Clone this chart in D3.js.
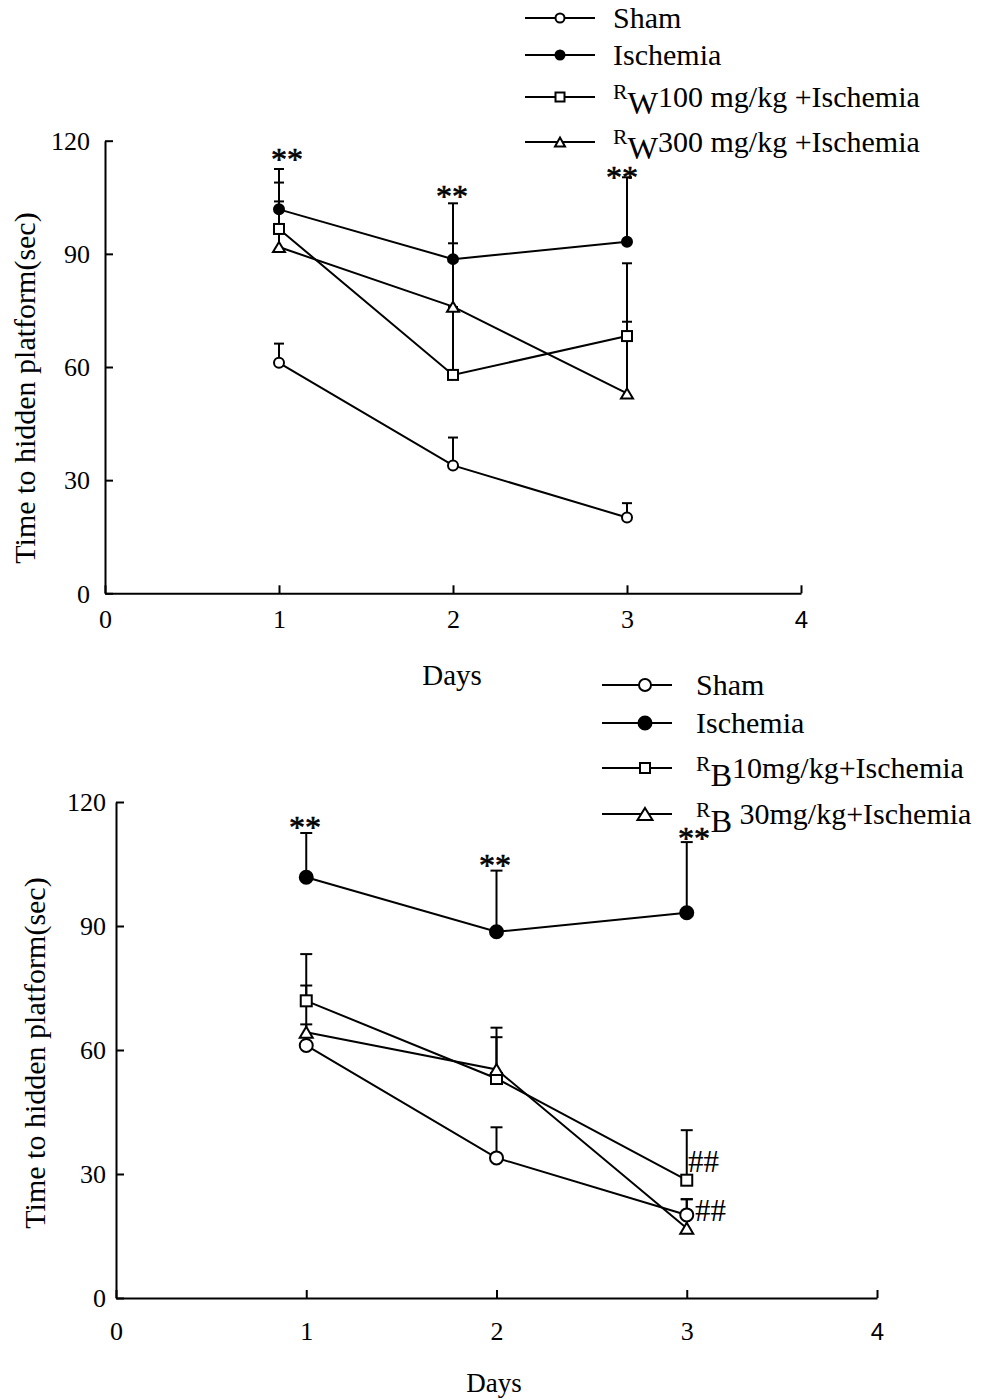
<!DOCTYPE html>
<html>
<head>
<meta charset="utf-8">
<script src="https://cdn.jsdelivr.net/npm/d3@7"></script>
<style>
  body { margin: 0; background: #fff; }
  svg text { font-family: "Liberation Serif", "Times New Roman", serif; fill: #000; }
</style>
</head>
<body>
<svg id="chart" width="981" height="1400"></svg>
<script>
// ---- data: escape latency in the hidden-platform test (mean, +SE) ----
const days = [1, 2, 3];
const xTicks = [0, 1, 2, 3, 4];
const yTicks = [0, 30, 60, 90, 120];

const shamMean = [61.1, 33.9, 20.1];
const shamSE = [5.1, 7.4, 3.8];
const ischemiaMean = [101.8, 88.6, 93.2];
const ischemiaSE = [10.7, 14.8, 17.1];

const rw100Mean = [96.6, 57.9, 68.2];
const rw100SE = [12.3, 18.0, 19.3];
const rw300Mean = [91.8, 76.0, 53.0];
const rw300SE = [12.1, 16.8, 19.0];

const rb10Mean = [71.9, 53.1, 28.5];
const rb10SE = [11.3, 12.3, 12.1];
const rb30Mean = [64.3, 55.3, 16.9];
const rb30SE = [11.3, 7.8, 7.0];

// significance marks, placed in data coordinates (day, seconds)
const topMarks = [
  { x: 1.046, y: 116.2, text: "**" },
  { x: 1.994, y: 106.4, text: "**" },
  { x: 2.971, y: 111.5, text: "**" }
];
const bottomMarks = [
  { x: 0.993, y: 114.9, text: "**" },
  { x: 1.992, y: 105.7, text: "**" },
  { x: 3.038, y: 112.3, text: "**" }
];
const bottomHash = [
  { x: 3.007, y: 32.9, text: "##" },
  { x: 3.043, y: 21.0, text: "##" }
];

// ---- series definitions ----
const topSeries = [
  { label: "Sham", mean: shamMean, se: shamSE, shape: "circle", filled: false },
  { label: "Ischemia", mean: ischemiaMean, se: ischemiaSE, shape: "circle", filled: true },
  { label: "R", sub: "W", rest: "100 mg/kg +Ischemia", mean: rw100Mean, se: rw100SE, shape: "square", filled: false },
  { label: "R", sub: "W", rest: "300 mg/kg +Ischemia", mean: rw300Mean, se: rw300SE, shape: "triangle", filled: false }
];
const bottomSeries = [
  { label: "Sham", mean: shamMean, se: shamSE, shape: "circle", filled: false },
  { label: "Ischemia", mean: ischemiaMean, se: ischemiaSE, shape: "circle", filled: true },
  { label: "R", sub: "B", rest: "10mg/kg+Ischemia", mean: rb10Mean, se: rb10SE, shape: "square", filled: false },
  { label: "R", sub: "B", rest: " 30mg/kg+Ischemia", mean: rb30Mean, se: rb30SE, shape: "triangle", filled: false }
];

const svg = d3.select("#chart");
const LW = 2;

function drawMarker(g, shape, filled, cx, cy, m) {
  if (shape === "circle") {
    g.append("circle").attr("cx", cx).attr("cy", cy).attr("r", filled ? m.rf : m.r)
      .attr("fill", filled ? "#000" : "#fff").attr("stroke", "#000").attr("stroke-width", LW);
  } else if (shape === "square") {
    g.append("rect").attr("x", cx - m.s / 2).attr("y", cy - m.s / 2)
      .attr("width", m.s).attr("height", m.s)
      .attr("fill", "#fff").attr("stroke", "#000").attr("stroke-width", LW);
  } else {
    const w = m.tw, h = m.th;
    g.append("path")
      .attr("d", `M${cx},${cy - h / 2}L${cx + w / 2},${cy + h / 2}L${cx - w / 2},${cy + h / 2}Z`)
      .attr("fill", "#fff").attr("stroke", "#000").attr("stroke-width", LW).attr("stroke-linejoin", "miter");
  }
}

function drawPanel(p) {
  const g = svg.append("g");
  const x = d3.scaleLinear().domain([0, 4]).range([p.left, p.right]);
  const y = d3.scaleLinear().domain([0, 120]).range([p.bottom, p.top]);

  // axes, ticks pointing inward
  const gx = g.append("g").attr("transform", `translate(0,${p.bottom})`)
    .call(d3.axisBottom(x).tickValues(xTicks).tickSize(-8).tickSizeOuter(0).tickPadding(p.xPad).tickFormat(d3.format("d")));
  const gy = g.append("g").attr("transform", `translate(${p.left},0)`)
    .call(d3.axisLeft(y).tickValues(yTicks).tickSize(-8).tickSizeOuter(0).tickPadding(p.yPad).tickFormat(d3.format("d")));
  [gx, gy].forEach(a => {
    a.attr("font-family", null).attr("font-size", null);
    a.selectAll("path, line").attr("stroke", "#000").attr("stroke-width", LW);
    a.selectAll("text").attr("font-size", p.tickFont).attr("fill", "#000");
  });
  gx.selectAll("text").attr("dy", null).attr("y", p.xPad);
  gy.selectAll("text").attr("dy", "0.34em");
  gx.selectAll(".tick").filter(d => d === 4).select("text")
    .style("font-family", "'Liberation Sans', Arial, sans-serif").attr("font-size", p.tickFont - 2);

  // axis titles
  g.append("text").attr("x", p.xTitle[0]).attr("y", p.xTitle[1])
    .attr("text-anchor", "middle").attr("font-size", p.xTitleFont).text("Days");
  g.append("text").attr("transform", `translate(${p.yTitle[0]},${p.yTitle[1]}) rotate(-90)`)
    .attr("text-anchor", "middle").attr("font-size", p.yTitleFont).text("Time to hidden platform(sec)");

  const line = d3.line().x((d, i) => x(days[i])).y(d => y(d));
  const plot = g.append("g");
  p.series.forEach(s => {
    plot.append("path").attr("d", line(s.mean)).attr("fill", "none")
      .attr("stroke", "#000").attr("stroke-width", LW);
  });
  // upward error bars
  p.series.forEach(s => {
    s.mean.forEach((v, i) => {
      const cx = x(days[i]), top = y(v + s.se[i]);
      plot.append("line").attr("x1", cx).attr("x2", cx).attr("y1", y(v)).attr("y2", top)
        .attr("stroke", "#000").attr("stroke-width", LW);
      plot.append("line").attr("x1", cx - p.cap / 2).attr("x2", cx + p.cap / 2).attr("y1", top).attr("y2", top)
        .attr("stroke", "#000").attr("stroke-width", LW);
    });
  });
  p.series.forEach(s => {
    s.mean.forEach((v, i) => drawMarker(plot, s.shape, s.filled, x(days[i]), y(v), p.marker));
  });

  // significance labels
  p.marks.forEach(m => {
    g.append("text").attr("x", x(m.x)).attr("y", y(m.y) + 15).attr("text-anchor", "middle")
      .attr("font-size", 32).attr("stroke", "#000").attr("stroke-width", 0.6).text(m.text);
  });
  (p.hash || []).forEach(m => {
    g.append("text").attr("x", x(m.x)).attr("y", y(m.y) + 10).attr("text-anchor", "start")
      .attr("font-size", 31).text(m.text);
  });

  // legend
  const L = p.legend;
  const lg = g.append("g");
  p.series.forEach((s, i) => {
    const cy = L.rows[i];
    lg.append("line").attr("x1", L.x1).attr("x2", L.x2).attr("y1", cy).attr("y2", cy)
      .attr("stroke", "#000").attr("stroke-width", LW);
    drawMarker(lg, s.shape, s.filled, L.mx, cy, L.marker);
    const t = lg.append("text").attr("x", L.tx).attr("y", cy + 10).attr("font-size", L.font);
    if (s.sub) {
      t.append("tspan").attr("font-size", L.font * 0.72).attr("dy", -L.raise).text(s.label);
      t.append("tspan").attr("font-size", L.font * 1.08).attr("dy", L.raise + L.drop).text(s.sub);
      t.append("tspan").attr("dy", -L.drop).text(s.rest);
    } else {
      t.text(s.label);
    }
  });
}

drawPanel({
  series: topSeries, marks: topMarks,
  left: 105, right: 801, top: 140.7, bottom: 593.3,
  xPad: 35, yPad: 15, tickFont: 26,
  xTitle: [452, 685], xTitleFont: 29,
  yTitle: [35, 388], yTitleFont: 30,
  cap: 10,
  marker: { r: 5, rf: 5, s: 10, tw: 12, th: 10 },
  legend: { rows: [18, 55, 97, 142], x1: 525, x2: 595, mx: 560, tx: 613, font: 30, raise: 8, drop: 7,
            marker: { r: 4.5, rf: 4.5, s: 9, tw: 10, th: 9 } }
});

drawPanel({
  series: bottomSeries, marks: bottomMarks, hash: bottomHash,
  left: 116, right: 877, top: 802, bottom: 1298,
  xPad: 42, yPad: 10, tickFont: 26,
  xTitle: [494, 1392], xTitleFont: 27,
  yTitle: [45, 1053], yTitleFont: 30,
  cap: 12,
  marker: { r: 6.5, rf: 6.5, s: 11, tw: 13, th: 11 },
  legend: { rows: [685, 723, 768, 814], x1: 602, x2: 672, mx: 645, tx: 696, font: 30, raise: 7, drop: 8,
            marker: { r: 6, rf: 6.5, s: 10, tw: 15, th: 12 } }
});
</script>
</body>
</html>
